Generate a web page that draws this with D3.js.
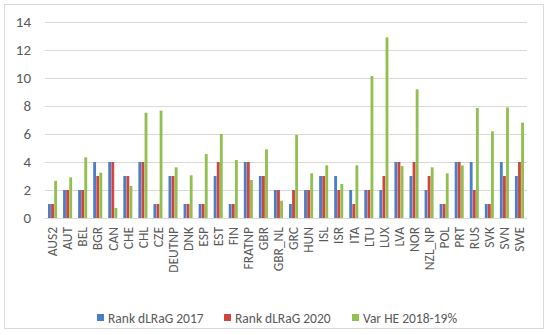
<!DOCTYPE html>
<html>
<head>
<meta charset="utf-8">
<script src="https://cdn.jsdelivr.net/npm/d3@7"></script>
<style>
  body { margin: 0; background: #fff; }
  svg text { font-family: Calibri, Carlito, "Liberation Sans", "Open Sans", sans-serif; fill: #595959; }
</style>
</head>
<body>
<svg id="chart" width="550" height="335"></svg>
<script>
// ── Data ──────────────────────────────────────────────────────────────────
const categories = ['AUS2','AUT','BEL','BGR','CAN','CHE','CHL','CZE','DEUTNP','DNK','ESP','EST','FIN','FRATNP','GBR','GBR_NL','GRC','HUN','ISL','ISR','ITA','LTU','LUX','LVA','NOR','NZL_NP','POL','PRT','RUS','SVK','SVN','SWE'];
const rank2017 = [1,2,2,4,4,3,4,1,3,1,1,3,1,4,3,2,1,2,3,3,2,2,2,4,3,2,1,4,4,1,4,3];
const rank2020 = [1,2,2,3,4,3,4,1,3,1,1,4,1,4,3,2,2,2,3,2,1,2,3,4,4,3,1,4,2,1,3,4];
const varHE    = [2.65,2.9,4.33,3.24,0.71,2.29,7.52,7.67,3.62,3.05,4.57,6.0,4.14,2.71,4.9,1.24,5.93,3.19,3.76,2.43,3.76,10.14,12.9,3.71,9.19,3.62,3.19,3.76,7.86,6.19,7.9,6.81];
const seriesNames = ['Rank dLRaG 2017','Rank dLRaG 2020','Var HE 2018-19%'];
const colors = ['#4A7EC6','#D0463F','#92C050'];
const yTicks = [0,2,4,6,8,10,12,14];

const svg = d3.select('#chart');

// outer frame
svg.append('rect')
  .attr('x', 4.5).attr('y', 4.5).attr('width', 539).attr('height', 324)
  .attr('fill', '#fff').attr('stroke', '#d9d9d9');

const plot = { left: 45, right: 527, top: 22, bottom: 218 };

const x0 = d3.scaleBand().domain(categories)
  .range([plot.left, plot.right]).paddingInner(0.4).paddingOuter(0.2);
const x1 = d3.scaleBand().domain(d3.range(3))
  .range([0, x0.bandwidth()]).paddingInner(0.08);
const y = d3.scaleLinear().domain([0, 14]).range([plot.bottom, plot.top]);

// gridlines
svg.append('g')
  .selectAll('line').data(yTicks).join('line')
  .attr('x1', plot.left).attr('x2', plot.right)
  .attr('y1', d => Math.round(y(d)) + 0.5).attr('y2', d => Math.round(y(d)) + 0.5)
  .attr('stroke', '#d9d9d9').attr('stroke-width', 1);

// y labels
svg.append('g')
  .selectAll('text').data(yTicks).join('text')
  .attr('x', 31).attr('y', d => y(d)).attr('dy', '0.35em')
  .attr('text-anchor', 'end').attr('font-size', 15)
  .text(d => d);

// bars
const seriesData = [rank2017, rank2020, varHE];
seriesData.forEach((vals, s) => {
  svg.append('g')
    .selectAll('rect').data(vals).join('rect')
    .attr('x', (d, i) => x0(categories[i]) + x1(s))
    .attr('width', x1.bandwidth())
    .attr('y', d => y(d))
    .attr('height', d => y(0) - y(d))
    .attr('fill', colors[s]);
});

// x labels (rotated)
svg.append('g')
  .selectAll('text').data(categories).join('text')
  .attr('transform', d => `translate(${x0(d) + x0.bandwidth() / 2},227) rotate(-90)`)
  .attr('dy', '0.35em').attr('text-anchor', 'end').attr('font-size', 13.5)
  .text(d => d);

// legend
const legendX = [97, 224, 352];
const legend = svg.append('g').selectAll('g').data(seriesNames).join('g')
  .attr('transform', (d, i) => `translate(${legendX[i]},318)`);
legend.append('rect').attr('x', 0).attr('y', -4).attr('width', 7).attr('height', 7)
  .attr('fill', (d, i) => colors[i]);
legend.append('text').attr('x', 11).attr('y', 0).attr('dy', '0.35em')
  .attr('font-size', 13.5).text(d => d);
</script>
</body>
</html>
